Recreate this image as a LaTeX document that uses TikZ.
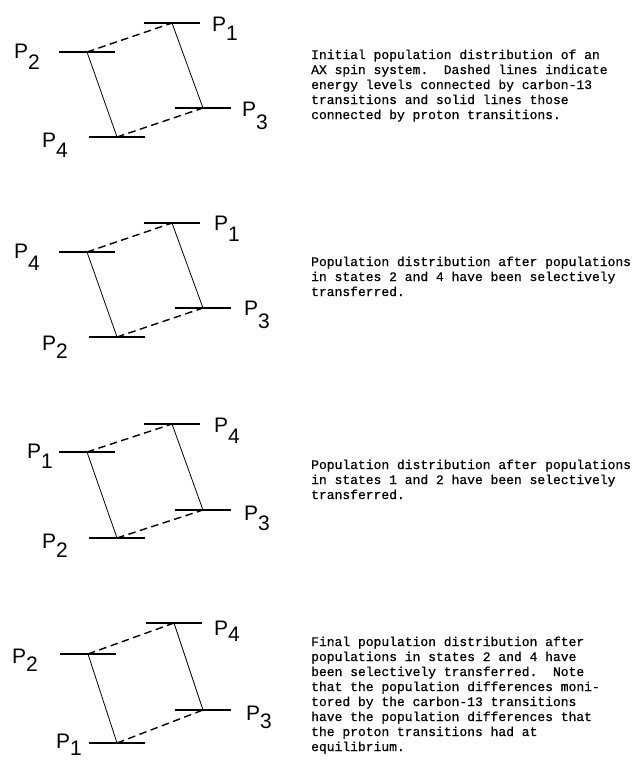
\documentclass[tikz,border=0pt]{standalone}
\usepackage{fontspec}
\setmainfont{Liberation Sans}
\newfontfamily\twfont[FakeBold=0.6]{Liberation Mono}
\newcommand\PLev[2][11pt]{P\raisebox{-#1}{#2}}
\begin{document}
\begin{tikzpicture}[x=1pt,y=-1pt,
  level/.style={line width=1.7pt},
  proton/.style={line width=0.8pt},
  carbon/.style={line width=1.4pt, dash pattern=on 7.5pt off 4.5pt},
  plab/.style={anchor=base west, inner sep=0pt, font=\fontsize{21}{21}\selectfont},
  captext/.style={anchor=base west, inner sep=0pt, align=left, font=\twfont\fontsize{13}{15}\selectfont\frenchspacing}]
\useasboundingbox (0,0) rectangle (638,761);

% ---------- panel 1 ----------
\coordinate (a1) at (87,52);
\coordinate (b1) at (172,23);
\coordinate (c1) at (203,108);
\coordinate (d1) at (117,137);
\foreach \c in {a1,b1,c1,d1} \draw[level] (\c) ++(-28,0) -- ++(56,0);
\draw[proton] (a1) -- (d1);
\draw[proton] (b1) -- (c1);
\draw[carbon] (a1) -- (b1);
\draw[carbon] (d1) -- (c1);
\node[plab] (l1a) at (14,58) {\PLev{2}};
\node[plab] (l1b) at (212,31) {\PLev[9pt]{1}};
\node[plab] (l1c) at (242,116) {\PLev[13pt]{3}};
\node[plab] (l1d) at (42,147) {\PLev[10pt]{4}};
% base anchor of a multi-line node lies on its last line
\node[captext] (t1) at (311,119) {Initial population distribution of an\\
AX spin system.~ Dashed lines indicate\\
energy levels connected by carbon-13\\
transitions and solid lines those\\
connected by proton transitions.};

% ---------- panel 2 ----------
\coordinate (a2) at (87,252);
\coordinate (b2) at (172,223);
\coordinate (c2) at (203,308);
\coordinate (d2) at (117,337);
\foreach \c in {a2,b2,c2,d2} \draw[level] (\c) ++(-28,0) -- ++(56,0);
\draw[proton] (a2) -- (d2);
\draw[proton] (b2) -- (c2);
\draw[carbon] (a2) -- (b2);
\draw[carbon] (d2) -- (c2);
\node[plab] (l2a) at (14,258) {\PLev[12pt]{4}};
\node[plab] (l2b) at (214,230) {\PLev{1}};
\node[plab] (l2c) at (244,315) {\PLev[13pt]{3}};
\node[plab] (l2d) at (42,350) {\PLev[8pt]{2}};
\node[captext] (t2) at (311,296) {Population distribution after populations\\
in states 2 and 4 have been selectively\\
transferred.};

% ---------- panel 3 ----------
\coordinate (a3) at (87,452);
\coordinate (b3) at (172,424);
\coordinate (c3) at (203,510);
\coordinate (d3) at (117,538);
\foreach \c in {a3,b3,c3,d3} \draw[level] (\c) ++(-28,0) -- ++(56,0);
\draw[proton] (a3) -- (d3);
\draw[proton] (b3) -- (c3);
\draw[carbon] (a3) -- (b3);
\draw[carbon] (d3) -- (c3);
\node[plab] (l3a) at (27,458) {\PLev[10pt]{1}};
\node[plab] (l3b) at (214,432) {\PLev{4}};
\node[plab] (l3c) at (244,520) {\PLev[10pt]{3}};
\node[plab] (l3d) at (42,548) {\PLev[9pt]{2}};
\node[captext] (t3) at (311,499) {Population distribution after populations\\
in states 1 and 2 have been selectively\\
transferred.};

% ---------- panel 4 ----------
\coordinate (a4) at (88,654);
\coordinate (b4) at (174,623);
\coordinate (c4) at (203,710);
\coordinate (d4) at (117,743);
\foreach \c in {a4,b4,c4,d4} \draw[level] (\c) ++(-28,0) -- ++(56,0);
\draw[proton] (a4) -- (d4);
\draw[proton] (b4) -- (c4);
\draw[carbon] (a4) -- (b4);
\draw[carbon] (d4) -- (c4);
\node[plab] (l4a) at (12,663) {\PLev[8pt]{2}};
\node[plab] (l4b) at (214,635) {\PLev[6pt]{4}};
\node[plab] (l4c) at (246,720) {\PLev[8pt]{3}};
\node[plab] (l4d) at (56,748) {\PLev[7pt]{1}};
\node[captext] (t4) at (311,751) {Final population distribution after\\
populations in states 2 and 4 have\\
been selectively transferred.~ Note\\
that the population differences moni-\\
tored by the carbon-13 transitions\\
have the population differences that\\
the proton transitions had at\\
equilibrium.};
\end{tikzpicture}
\end{document}
